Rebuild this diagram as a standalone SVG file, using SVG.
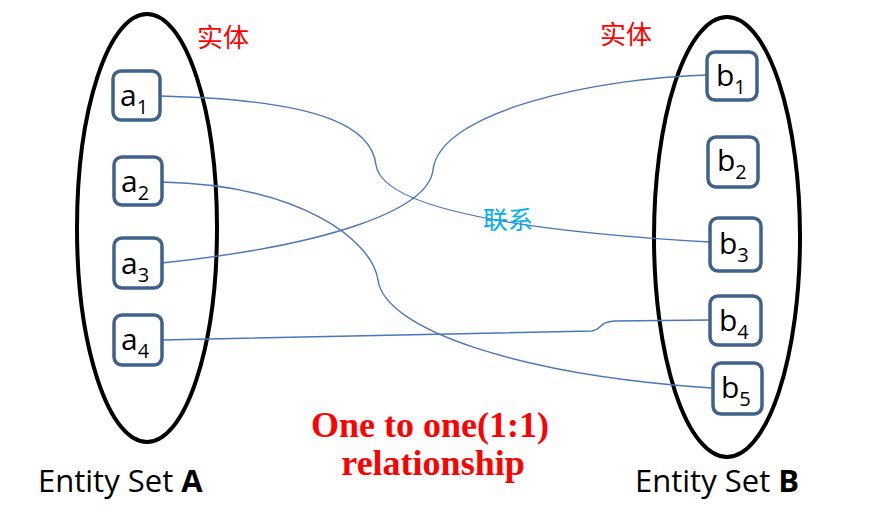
<svg xmlns="http://www.w3.org/2000/svg" width="869" height="513" viewBox="0 0 869 513">
<style>
.set{fill:none;stroke:#000;stroke-width:4}
.box{fill:#fff;stroke:#3F618C;stroke-width:3.5}
.lbl{font-family:"Open Sans","Liberation Sans",sans-serif;font-size:30px;fill:#000}
.sub{font-size:20px}
.conn{fill:none;stroke:#4A76B8;stroke-width:1.4}
.cn{font-family:"Noto Sans CJK SC",sans-serif;font-size:26px;fill:#FF0000}
.rel{font-family:"Noto Sans CJK SC",sans-serif;font-size:25px;fill:#00B0F0}
.title{font-family:"Liberation Serif",serif;font-weight:bold;font-size:36px;fill:#FF0000;text-anchor:middle}
.es{font-family:"Open Sans","Liberation Sans",sans-serif;font-size:31px;fill:#000}
</style>
<rect width="869" height="513" fill="#fff"/>
<g id="setA"><ellipse class="set" cx="147" cy="228" rx="70" ry="214"/></g>
<g id="setB"><ellipse class="set" cx="727" cy="237" rx="73" ry="220"/></g>
<g id="connectors">
<path class="conn" d="M160,96 C330,100 372,130 376,165 C382,205 500,230 710,242"/>
<path class="conn" d="M162,263 C330,245 428,210 433,170 C440,110 600,78 707,75"/>
<path class="conn" d="M162,182 C300,185 372,240 378,280 C385,330 520,375 712,388"/>
<path class="conn" d="M162,340 L592,331 C602,330 598,322 615,321 L710,320"/>
</g>
<g id="a1"><rect class="box" x="113" y="71" width="47" height="49" rx="8"/><text class="lbl" x="120" y="106">a<tspan class="sub" dy="8">1</tspan></text></g>
<g id="a2"><rect class="box" x="114" y="157" width="48" height="48" rx="8"/><text class="lbl" x="121" y="192">a<tspan class="sub" dy="8">2</tspan></text></g>
<g id="a3"><rect class="box" x="114" y="238" width="48" height="50" rx="8"/><text class="lbl" x="121" y="274">a<tspan class="sub" dy="8">3</tspan></text></g>
<g id="a4"><rect class="box" x="114" y="315" width="48" height="50" rx="8"/><text class="lbl" x="121" y="350">a<tspan class="sub" dy="8">4</tspan></text></g>
<g id="b1"><rect class="box" x="707" y="52" width="50" height="48" rx="8"/><text class="lbl" x="716" y="86">b<tspan class="sub" dy="8">1</tspan></text></g>
<g id="b2"><rect class="box" x="708" y="137" width="50" height="50" rx="8"/><text class="lbl" x="717" y="171">b<tspan class="sub" dy="8">2</tspan></text></g>
<g id="b3"><rect class="box" x="710" y="218" width="51" height="53" rx="8"/><text class="lbl" x="719" y="254">b<tspan class="sub" dy="8">3</tspan></text></g>
<g id="b4"><rect class="box" x="710" y="296" width="51" height="49" rx="8"/><text class="lbl" x="719" y="331">b<tspan class="sub" dy="8">4</tspan></text></g>
<g id="b5"><rect class="box" x="713" y="363" width="49" height="51" rx="8"/><text class="lbl" x="721" y="398">b<tspan class="sub" dy="8">5</tspan></text></g>
<text class="cn" x="197" y="47">实体</text>
<text class="cn" x="600" y="44">实体</text>
<text class="rel" x="483" y="229">联系</text>
<text class="title" x="430" y="437">One to one(1:1)</text>
<text class="title" x="433" y="475">relationship</text>
<text class="es" x="38" y="492">Entity Set <tspan font-weight="bold">A</tspan></text>
<text class="es" x="635" y="492">Entity Set <tspan font-weight="bold">B</tspan></text>
</svg>
